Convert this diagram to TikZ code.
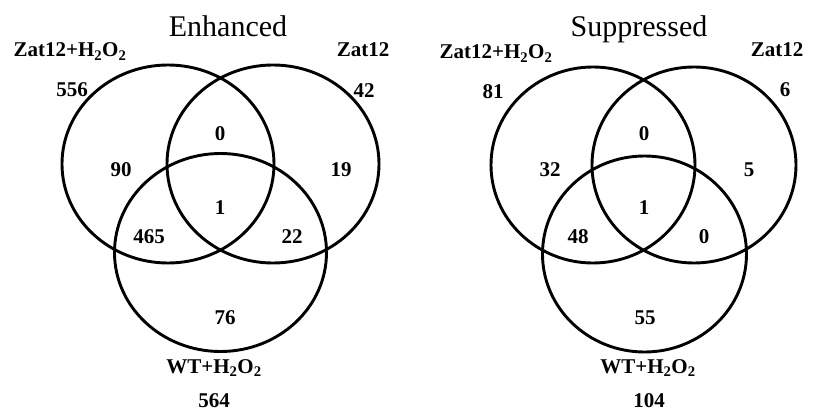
\documentclass[tikz,border=0pt]{standalone}
\usepackage{fontspec}
\setmainfont{Liberation Serif}
\usetikzlibrary{positioning}

\begin{document}
\begin{tikzpicture}[x=1pt, y=-1pt,
  set/.style={line width=2.9pt},
  num/.style={font=\fontsize{21}{21}\selectfont\bfseries, inner sep=0pt},
  lab/.style={num, anchor=base},
  ttl/.style={font=\fontsize{30}{30}\selectfont, inner sep=0pt, anchor=base}]
\useasboundingbox (0,0) rectangle (814,412);
% Enhanced
\coordinate (ea) at (168,164);
\coordinate (eb) at (273,164);
\coordinate (ec) at (220.5,252.5);
\foreach \c in {ea,eb,ec} \draw[set] (\c) ellipse [x radius=106pt, y radius=99pt];
\node[ttl] (etitle) at (228,37) {Enhanced};
\node[lab] (ezh) at (70,57) {Zat12+H\textsubscript{2}O\textsubscript{2}};
\node[lab] (ez) at (363,57) {Zat12};
\node[lab] (ewt) at (214,373) {WT+H\textsubscript{2}O\textsubscript{2}};
\foreach \n/\x/\y/\t in {zh/72/90/556, z/364/91/42, wt/214/401/564,
    ab/220/134/0, a/121/170/90, b/341/170/19, abc/220/208/1,
    ac/149/237/465, bc/292/237/22, c/225/318/76}
  \node[num] (en\n) at (\x,\y) {\t};
% Suppressed
\coordinate (sa) at (593,165);
\coordinate (sb) at (694,165);
\coordinate (sc) at (644.5,254);
\foreach \c in {sa,sb,sc} \draw[set] (\c) ellipse [x radius=102pt, y radius=98pt];
\node[ttl] (stitle) at (639,37) {Suppressed};
\node[lab] (szh) at (496,59) {Zat12+H\textsubscript{2}O\textsubscript{2}};
\node[lab] (sz) at (777,57) {Zat12};
\node[lab] (swt) at (648,373) {WT+H\textsubscript{2}O\textsubscript{2}};
\foreach \n/\x/\y/\t in {zh/493/92/81, z/785/90/6, wt/649/401/104,
    ab/644/134/0, a/550/170/32, b/749/170/5, abc/644/208/1,
    ac/578/237/48, bc/704/237/0, c/645/318/55}
  \node[num] (sn\n) at (\x,\y) {\t};
\end{tikzpicture}
\end{document}
